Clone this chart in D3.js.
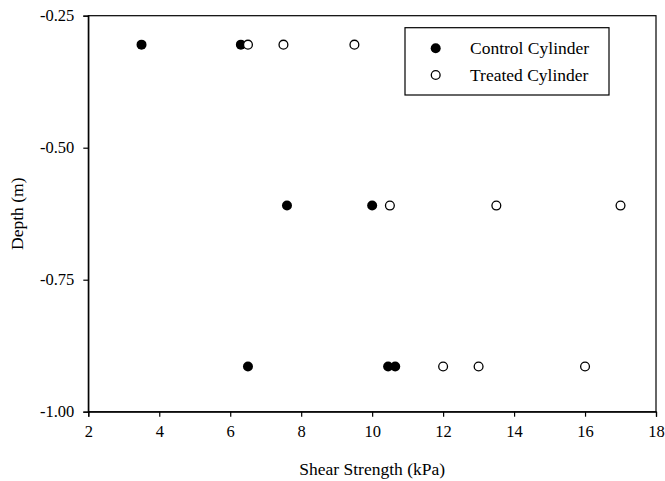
<!DOCTYPE html>
<html>
<head>
<meta charset="utf-8">
<script src="https://cdn.jsdelivr.net/npm/d3@7"></script>
<style>
    body { margin: 0; background: #fff; }
    svg text { font-family: "Liberation Serif", "Times New Roman", Times, serif !important; fill: #000; }
    .tick text { font-size: 16.5px; }
    .domain, .tick line { stroke: #000; stroke-width: 1.2; }
</style>
</head>
<body>
<div id="chart"></div>
<script>
    // depths in m (1, 2, 3 ft)
    const controlDepth = [-0.3048, -0.3048, -0.6096, -0.6096, -0.9144, -0.9144, -0.9144];
    const controlShear = [3.5, 6.3, 7.6, 10.0, 6.5, 10.45, 10.65];
    const treatedDepth = [-0.3048, -0.3048, -0.3048, -0.6096, -0.6096, -0.6096, -0.9144, -0.9144, -0.9144];
    const treatedShear = [6.5, 7.5, 9.5, 10.5, 13.5, 17.0, 12.0, 13.0, 16.0];
    const xTicks = [2, 4, 6, 8, 10, 12, 14, 16, 18];
    const yTicks = [-1.00, -0.75, -0.50, -0.25];
    const seriesNames = ["Control Cylinder", "Treated Cylinder"];

    let margin = {top: 15.7, right: 9, bottom: 69.3, left: 88.3},
        width = 665 - margin.left - margin.right,
        height = 481 - margin.top - margin.bottom;

    let svg = d3.select("#chart")
        .append("svg")
        .attr("width", 665)
        .attr("height", 481)
        .attr("font-family", "Liberation Serif, serif")
        .append("g")
        .attr("transform", `translate(${margin.left}, ${margin.top})`);

    let x = d3.scaleLinear().domain([2, 18]).range([0, width]);
    let y = d3.scaleLinear().domain([-1.00, -0.25]).range([height, 0]);

    // frame
    svg.append("rect")
        .attr("width", width)
        .attr("height", height)
        .attr("fill", "none")
        .attr("stroke", "#000")
        .attr("stroke-width", 1.2);

    svg.append("g")
        .attr("transform", `translate(0, ${height})`)
        .call(d3.axisBottom(x).tickValues(xTicks).tickSize(5).tickPadding(9).tickFormat(d3.format("d")))
        .attr("font-family", null);

    svg.append("g")
        .call(d3.axisLeft(y).tickValues(yTicks).tickSize(5).tickPadding(9).tickFormat(d3.format(".2f")))
        .attr("font-family", null);

    svg.selectAll(".tick text").text(function(){ return this.textContent.replace("−", "-"); });

    // axis titles
    svg.append("text")
        .attr("x", width / 2)
        .attr("y", height + 63)
        .attr("text-anchor", "middle")
        .style("font-size", "17.5px")
        .text("Shear Strength (kPa)");
    svg.append("text")
        .attr("transform", `translate(${23 - margin.left}, ${height / 2}) rotate(-90)`)
        .attr("text-anchor", "middle")
        .style("font-size", "17.5px")
        .text("Depth (m)");

    // points
    svg.selectAll(".control")
        .data(controlShear.map((s, i) => ({s: s, d: controlDepth[i]})))
        .join("circle")
        .attr("class", "control")
        .attr("cx", d => x(d.s))
        .attr("cy", d => y(d.d))
        .attr("r", 5)
        .attr("fill", "#000");

    svg.selectAll(".treated")
        .data(treatedShear.map((s, i) => ({s: s, d: treatedDepth[i]})))
        .join("circle")
        .attr("class", "treated")
        .attr("cx", d => x(d.s))
        .attr("cy", d => y(d.d))
        .attr("r", 4.4)
        .attr("fill", "#fff")
        .attr("stroke", "#000")
        .attr("stroke-width", 1.3);

    // legend
    let legend = svg.append("g")
        .attr("transform", `translate(${405 - margin.left}, ${27.7 - margin.top})`);
    legend.append("rect")
        .attr("width", 204)
        .attr("height", 67.3)
        .attr("fill", "#fff")
        .attr("stroke", "#000")
        .attr("stroke-width", 1.2);
    seriesNames.forEach(function(name, i){
        let cy = 20.6 + i * 26.7;
        legend.append("circle")
            .attr("cx", 30.7)
            .attr("cy", cy)
            .attr("r", i == 0 ? 5 : 4.4)
            .attr("fill", i == 0 ? "#000" : "#fff")
            .attr("stroke", "#000")
            .attr("stroke-width", i == 0 ? 0 : 1.3);
        legend.append("text")
            .attr("x", 65)
            .attr("y", cy + 6)
            .style("font-size", "17.5px")
            .text(name);
    });
</script>
</body>
</html>
